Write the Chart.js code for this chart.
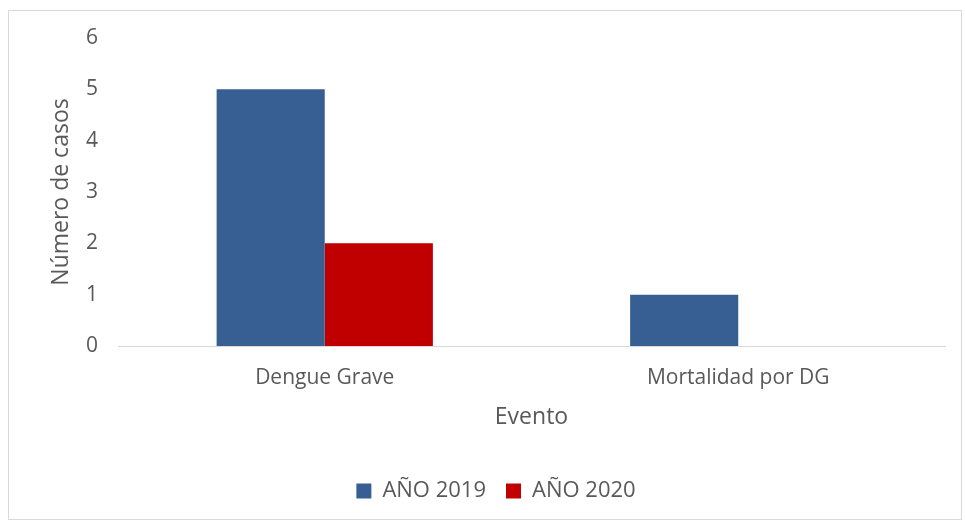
<!DOCTYPE html>
<html>
<head>
<meta charset="utf-8">
<script src="https://cdn.jsdelivr.net/npm/chart.js@4"></script>
<style>
  html, body { margin: 0; padding: 0; background: #fff; }
  #wrap { position: relative; width: 965px; height: 522px; }
  #frame { position: absolute; left: 8px; top: 10px; width: 954px; height: 510px;
           border: 1px solid #d9d9d9; box-sizing: border-box; pointer-events: none; }
</style>
</head>
<body>
<div id="wrap">
  <canvas id="chart" width="965" height="522"></canvas>
  <div id="frame"></div>
</div>
<script>
// --- data ---
const CATEGORIES = ["Dengue Grave", "Mortalidad por DG"];
const SERIES_2019 = [5, 1];
const SERIES_2020 = [2, 0];
const SERIES_NAMES = ["AÑO 2019", "AÑO 2020"];
const Y_TICKS = [0, 1, 2, 3, 4, 5, 6];

const TEXT = "#595959";
const FONT = "'Open Sans', 'Noto Sans', sans-serif";

new Chart(document.getElementById("chart"), {
  type: "bar",
  data: {
    labels: CATEGORIES,
    datasets: [
      { label: SERIES_NAMES[0], data: SERIES_2019, backgroundColor: "#375f93" },
      { label: SERIES_NAMES[1], data: SERIES_2020, backgroundColor: "#c00000" },
    ],
  },
  options: {
    responsive: false,
    animation: false,
    layout: { padding: { top: 38, right: 20, bottom: 10, left: 47 } },
    datasets: { bar: { categoryPercentage: 0.523, barPercentage: 1.0 } },
    plugins: {
      tooltip: { enabled: false },
      legend: {
        position: "bottom",
        labels: {
          color: TEXT,
          font: { family: FONT, size: 22 },
          boxWidth: 15,
          boxHeight: 15,
          padding: 20,
        },
      },
    },
    scales: {
      x: {
        grid: { display: false, drawTicks: false },
        border: { color: "#d9d9d9", width: 1 },
        ticks: { color: TEXT, font: { family: FONT, size: 21 }, padding: 19 },
        title: {
          display: true,
          text: "Evento",
          color: TEXT,
          font: { family: FONT, size: 23 },
          padding: { top: 0, bottom: 29 },
        },
        afterFit: (s) => { s.height = 114; },
      },
      y: {
        min: 0,
        max: 6,
        afterBuildTicks: (s) => { s.ticks = Y_TICKS.map((v) => ({ value: v })); },
        grid: { display: false, drawTicks: false },
        border: { display: false },
        ticks: { color: TEXT, font: { family: FONT, size: 21 }, padding: 20 },
        title: {
          display: true,
          text: "Número de casos",
          color: TEXT,
          font: { family: FONT, size: 23 },
          padding: { top: 1, bottom: 0 },
        },
        afterFit: (s) => { s.width = 71; },
      },
    },
  },
});
</script>
</body>
</html>
